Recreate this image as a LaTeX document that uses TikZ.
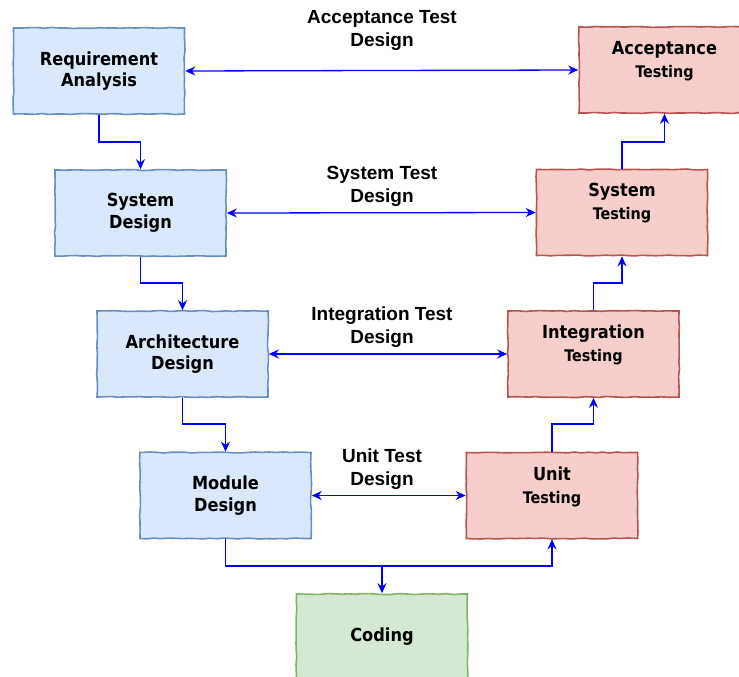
\documentclass[tikz,border=0pt]{standalone}
\usepackage{fontspec}
\setmainfont{Liberation Sans}
\newfontfamily\boxfont{DejaVu Sans Condensed}
\usetikzlibrary{arrows.meta}
\usetikzlibrary{decorations.pathmorphing}
\definecolor{bluefill}{HTML}{DAE8FC}
\definecolor{blueline}{HTML}{6C8EBF}
\definecolor{redfill}{HTML}{F8CECC}
\definecolor{redline}{HTML}{B85450}
\definecolor{greenfill}{HTML}{D5E8D4}
\definecolor{greenline}{HTML}{82B366}
\definecolor{flow}{RGB}{0,0,255}
\newcommand\smalltest{\fontsize{16}{20}\selectfont}
\tikzset{
  sketch/.style={draw, line width=1.6pt, minimum width=171pt, minimum height=86pt,
    decorate, decoration={random steps, segment length=7pt, amplitude=0.5pt}},
  phase/.style={sketch, draw=blueline, fill=bluefill, align=center,
    font=\boxfont\bfseries\fontsize{18}{21.5}\selectfont},
  testing/.style={sketch, draw=redline, fill=redfill,
    label={[align=center, yshift=9pt, font=\boxfont\bfseries\fontsize{18}{23}\selectfont]center:#1}},
  coding/.style={sketch, draw=greenline, fill=greenfill,
    font=\boxfont\bfseries\fontsize{18}{21}\selectfont},
  flowline/.style={flow, line width=1.3pt, -{Stealth[length=10pt, width=9pt]}},
  twoway/.style={flow, line width=1.3pt, {Stealth[length=10pt, width=9pt]}-{Stealth[length=10pt, width=9pt]}},
  testlabel/.style={align=center, font=\bfseries\fontsize{19}{23}\selectfont}
}

\begin{document}
\begin{tikzpicture}[x=1pt, y=-1pt]
  \useasboundingbox (0,0) rectangle (739,677);
  \clip (0,0) rectangle (739,677);

  % left side of the V
  \node[phase] (req) at (99,71) {Requirement\\Analysis};
  \node[phase] (sysd) at (140.5,213) {System\\Design};
  \node[phase] (arch) at (182.5,354) {Architecture\\Design};
  \node[phase] (mod) at (225.5,495.5) {Module\\Design};

  % right side of the V
  \node[testing={Acceptance\\{\smalltest Testing}}] (acc) at (664.5,70) {};
  \node[testing={System\\{\smalltest Testing}}] (syst) at (622,212.5) {};
  \node[testing={Integration\\{\smalltest Testing}}] (intt) at (593.5,354) {};
  \node[testing={Unit\\{\smalltest Testing}}] (unit) at (552,495.5) {};

  % bottom
  \node[coding] (code) at (382,637) {Coding};

  % going down
  \draw[flowline] (req.south) |- (120,142) -| (sysd.north);
  \draw[flowline] (sysd.south) |- (160,283) -| (arch.north);
  \draw[flowline] (arch.south) |- (200,424) -| (mod.north);
  \draw[flowline] (mod.south) |- (400,566) -| (unit.south);
  \draw[flowline] (382,566) -- (code.north);

  % going up
  \draw[flowline] (unit.north) |- (570,424) -| (intt.south);
  \draw[flowline] (intt.north) |- (610,283) -| (syst.south);
  \draw[flowline] (syst.north) |- (640,142) -| (acc.south);

  % test design links
  \draw[twoway] (req.east) -- (acc.west);
  \draw[twoway] (sysd.east) -- (syst.west);
  \draw[twoway] (arch.east) -- (intt.west);
  \draw[twoway] (mod.east) -- (unit.west);

  \node[testlabel] (accl) at (382,30) {Acceptance Test\\Design};
  \node[testlabel] (sysl) at (382,186) {System Test\\Design};
  \node[testlabel] (intl) at (382,327) {Integration Test\\Design};
  \node[testlabel] (unil) at (382,469) {Unit Test\\Design};
\end{tikzpicture}
\end{document}
